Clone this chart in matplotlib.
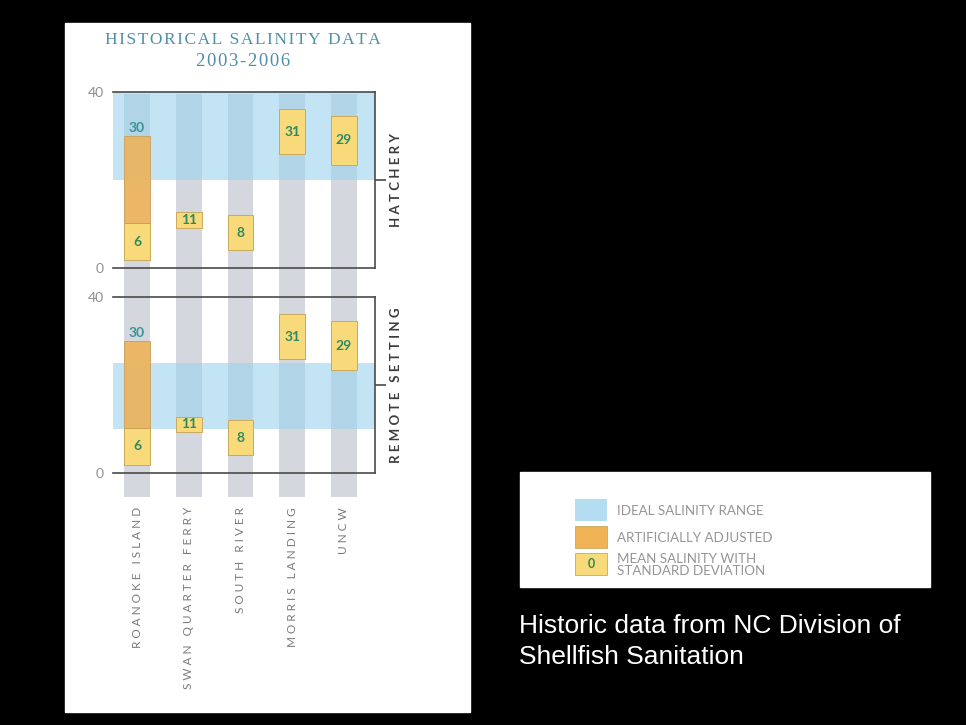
import numpy as np
import matplotlib
matplotlib.use('Agg')
import matplotlib.pyplot as plt
from matplotlib.patches import Rectangle
from matplotlib.ticker import FixedLocator

# Data
sites = ['ROANOKE ISLAND', 'SWAN QUARTER FERRY', 'SOUTH RIVER', 'MORRIS LANDING', 'UNCW']
mean_salinity = [6, 11, 8, 31, 29]
std_salinity = [4.2, 1.8, 4.0, 5.1, 5.6]
adjusted_to = [30, None, None, None, None]
ideal_hatchery = (20, 40)
ideal_remote = (10, 25)
panels = ['HATCHERY', 'REMOTE SETTING']

W, H = 966, 725
BLUE = '#9bd2ed'
GRAY = '#d4d7de'
YELLOW = '#f9da7a'
ORANGE = '#efb255'
FRAME = '#4a4a4a'
NUM_GREEN = '#2e8a62'
NUM_TEAL = '#3a9494'
SANS = ['Lato', 'DejaVu Sans']
SERIF = ['Liberation Serif', 'DejaVu Serif']


def spaced(s, sep='\u2009'):
    return sep.join(s)


def px_axes(fig, left, top, right, bottom):
    return fig.add_axes([left / W, (H - bottom) / H, (right - left) / W, (bottom - top) / H])


fig = plt.figure(figsize=(W / 100, H / 100), dpi=100, facecolor='black')

# background layer in pixel coords
bg = fig.add_axes([0, 0, 1, 1])
bg.set_xlim(0, W)
bg.set_ylim(H, 0)
bg.axis('off')
bg.add_patch(Rectangle((65, 23), 405, 689, color='white', zorder=0))
bg.add_patch(Rectangle((520, 472), 410, 115, color='white', zorder=0))

bg.text(243, 40, spaced('HISTORICAL SALINITY DATA', '\u200a'), family=SERIF,
        fontsize=12.5, color='#4f8fa8', ha='center', va='center')
bg.text(243, 61, spaced('2003-2006', '\u200a'), family=SERIF,
        fontsize=13.5, color='#4f8fa8', ha='center', va='center')

# legend
leg_items = [(BLUE, 0.75, 'IDEAL SALINITY RANGE', ''),
             (ORANGE, 1.0, 'ARTIFICIALLY ADJUSTED', ''),
             (YELLOW, 1.0, 'MEAN SALINITY WITH\nSTANDARD DEVIATION', '0')]
for i, (c, a, lab, num) in enumerate(leg_items):
    y0 = 499 + i * 27
    bg.add_patch(Rectangle((575, y0), 32, 22, facecolor=c, alpha=a,
                           edgecolor='#c8a860' if i else 'none', lw=0.6))
    if num:
        bg.text(591, y0 + 11, num, family=SANS, fontsize=9, color=NUM_GREEN,
                ha='center', va='center', fontweight='bold')
    bg.text(617, y0 + 12, lab, family=SANS, fontsize=9.6, color='#959595',
            ha='left', va='center', linespacing=1.0)

cap_font = dict(family=['Liberation Sans', 'DejaVu Sans'], fontsize=19, color='white',
                ha='left', va='baseline')
bg.text(519, 633, 'Historic data from NC Division of', **cap_font)
bg.text(519, 664, 'Shellfish Sanitation', **cap_font)

x = np.arange(len(sites))
xlim = (-0.464, 4.60)
bw = 0.5

# gray site columns running through both panels
ax_cols = px_axes(fig, 113, 94, 375, 497)
ax_cols.bar(x, 1, bottom=0, width=bw, color=GRAY, zorder=1)
ax_cols.set_xlim(*xlim)
ax_cols.set_ylim(0, 1)
ax_cols.axis('off')

axes = [px_axes(fig, 113, 92, 375, 268), px_axes(fig, 113, 297.3, 375, 472.7)]
ideals = [ideal_hatchery, ideal_remote]
for ax, ideal, pname in zip(axes, ideals, panels):
    ax.patch.set_alpha(0)
    ax.set_xlim(*xlim)
    ax.set_ylim(0, 40)
    ax.axhspan(ideal[0], ideal[1], color=BLUE, alpha=0.6, lw=0, zorder=1)
    lo = [m - s for m, s in zip(mean_salinity, std_salinity)]
    hi = [m + s for m, s in zip(mean_salinity, std_salinity)]
    ax.bar(x, np.array(hi) - np.array(lo), bottom=lo, width=bw, color=YELLOW,
           edgecolor='#c9a95c', lw=0.7, zorder=3)
    for xi, h, adj in zip(x, hi, adjusted_to):
        if adj is not None:
            ax.bar(xi, adj - h, bottom=h, width=bw, color=ORANGE, alpha=0.88,
                   edgecolor='#c9a05c', lw=0.7, zorder=3)
            ax.text(xi, adj + 0.4, str(adj), family=SANS, fontsize=10, color=NUM_TEAL,
                    ha='center', va='bottom', fontweight='bold', zorder=4)
    for xi, m in zip(x, mean_salinity):
        ax.text(xi, m, str(m), family=SANS, fontsize=10, color=NUM_GREEN,
                ha='center', va='center', fontweight='bold', zorder=4)

    ax.spines['left'].set_visible(False)
    for side in ['top', 'bottom', 'right']:
        ax.spines[side].set_color(FRAME)
        ax.spines[side].set_linewidth(1.2)
    ax.set_xticks([])
    ax.set_yticks([0, 40])
    ax.yaxis.set_minor_locator(FixedLocator([20]))
    ax.tick_params(axis='y', which='major', left=False, right=False, labelleft=True,
                   pad=3, labelsize=10, labelcolor='#8f8f8f')
    for t in ax.get_yticklabels():
        t.set_family(SANS)
    ax.tick_params(axis='y', which='minor', left=False, right=True, length=8,
                   width=1.2, color=FRAME)
    ax.text(1.08, 0.5, spaced(pname, '\u2009\u2009'), transform=ax.transAxes, rotation=90,
            family=SANS, fontsize=9.5, fontweight='bold', color='#3c3c3c',
            ha='center', va='center')

# site labels under the lower panel
for xi, s in zip(x, sites):
    axes[1].text(xi, -0.196, spaced(s, '\u2009\u2009'), transform=axes[1].get_xaxis_transform(),
                 rotation=90, family=SANS, fontsize=8.5, color='#7a7a7a',
                 ha='center', va='top')

fig.savefig('out.png', dpi=100, facecolor='black')
